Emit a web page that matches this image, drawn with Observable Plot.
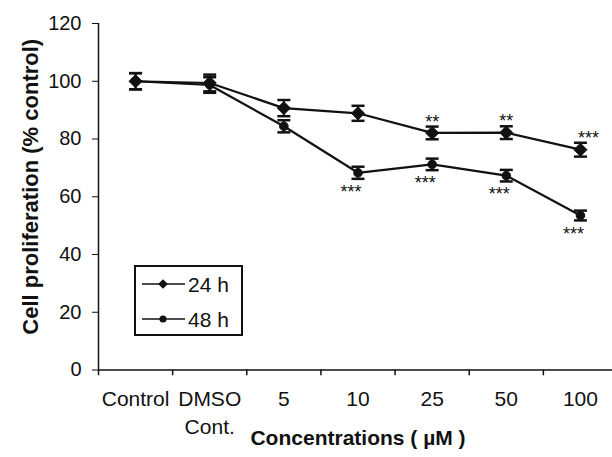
<!DOCTYPE html>
<html>
<head>
<meta charset="utf-8">
<script src="https://cdn.jsdelivr.net/npm/d3@7"></script>
<script src="https://cdn.jsdelivr.net/npm/@observablehq/plot@0.6"></script>
<style>
  html, body { margin: 0; padding: 0; background: #fff; }
  #wrap { position: relative; width: 612px; height: 457px; overflow: hidden; font-family: "Liberation Sans", Arial, sans-serif; }
  #legend { position: absolute; left: 134px; top: 265px; width: 105px; height: 67px; border: 2px solid #111; background: #fff; }
</style>
</head>
<body>
<div id="wrap"><div id="chart"></div><div id="legend"></div></div>
<script>
// ---- data ----
const categories = ["Control", "DMSO\nCont.", "5", "10", "25", "50", "100"];
const seriesNames = ["24 h", "48 h"];
const values24 = [100, 99.4, 90.7, 88.9, 82.1, 82.2, 76.3];
const err24 = [2.8, 2.9, 2.8, 2.6, 2.2, 2.2, 2.4];
const values48 = [100, 98.7, 84.4, 68.3, 71.2, 67.3, 53.5];
const err48 = [2.8, 2.7, 2.1, 2.1, 2.0, 2.0, 1.7];
const sig24 = ["", "", "", "", "**", "**", "***"];
const sig48 = ["", "", "", "***", "***", "***", "***"];
const yTicks = [0, 20, 40, 60, 80, 100, 120];
const yLabel = "Cell proliferation (% control)";
const xLabel = "Concentrations ( \u00b5M )";

// ---- chart ----
const ink = "#111";
const idx = d3.range(categories.length);
const boundaries = d3.range(categories.length + 1).map(i => i - 0.5);
const hbar = { draw(ctx, size) { const w = Math.sqrt(size / Math.PI); ctx.moveTo(-w, 0); ctx.lineTo(w, 0); } };

function seriesMarks(vals, errs, symbol, r) {
  return [
    Plot.line(idx, { x: i => i, y: i => vals[i], stroke: ink, strokeWidth: 2.2 }),
    Plot.ruleX(idx, { x: i => i, y1: i => vals[i] - errs[i], y2: i => vals[i] + errs[i], stroke: ink, strokeWidth: 2 }),
    Plot.dot(idx, { x: i => i, y: i => vals[i] + errs[i], symbol: hbar, r: 6.5, fill: "none", stroke: ink, strokeWidth: 2.5 }),
    Plot.dot(idx, { x: i => i, y: i => vals[i] - errs[i], symbol: hbar, r: 6.5, fill: "none", stroke: ink, strokeWidth: 2.5 }),
    Plot.dot(idx, { x: i => i, y: i => vals[i], symbol, r, fill: ink, stroke: ink, strokeWidth: 1 })
  ];
}

const chart = Plot.plot({
  width: 612,
  height: 457,
  marginLeft: 98,
  marginRight: -5,
  marginTop: 23,
  marginBottom: 87.5,
  style: { fontFamily: "'Liberation Sans', Arial, sans-serif", fontSize: "20px", background: "white", color: ink },
  x: { domain: [-0.5, categories.length - 0.5], axis: null },
  y: { domain: [0, 120], ticks: yTicks, tickSize: 6, tickPadding: 11, label: null, tickFormat: d => String(d) },
  marks: [
    Plot.ruleX([-0.5], { stroke: ink, strokeWidth: 1.5 }),
    Plot.ruleY([0], { stroke: ink, strokeWidth: 1.5 }),
    Plot.ruleX(boundaries, { x: d => d, y1: 0, y2: -2, stroke: ink, strokeWidth: 1.5 }),
    Plot.text(categories, { x: (d, i) => i, text: d => d, frameAnchor: "bottom", lineAnchor: "top", dy: 17, fontSize: 21, lineHeight: 1.3, fill: ink }),
    ...seriesMarks(values48, err48, "circle", 4.3),
    ...seriesMarks(values24, err24, "diamond2", 5.9),
    Plot.text(idx.filter(i => sig24[i] && i < 6), { x: i => i, y: i => values24[i], text: i => sig24[i], dy: -11, fontSize: 18, fill: ink }),
    Plot.text(idx.filter(i => sig24[i] && i === 6), { x: i => i, y: i => values24[i], text: i => sig24[i], dx: 8, dy: -11, fontSize: 18, fill: ink }),
    Plot.text(idx.filter(i => sig48[i]), { x: i => i, y: i => values48[i], text: i => sig48[i], dx: -7, dy: 19, fontSize: 18, fill: ink }),
    Plot.text([yLabel], { frameAnchor: "left", textAnchor: "middle", rotate: -90, dx: -68, dy: -10, fontSize: 22, fontWeight: "bold", fill: ink }),
    Plot.text([xLabel], { frameAnchor: "bottom", dy: 75, fontSize: 21, fontWeight: "bold", fill: ink })
  ]
});
document.getElementById("chart").appendChild(chart);

// ---- legend ----
const lg = d3.select("#legend").append("svg").attr("width", 105).attr("height", 67)
  .style("font-family", "'Liberation Sans', Arial, sans-serif");
const legendSymbols = [d3.symbolDiamond2, d3.symbolCircle];
const legendSizes = [60, 40];
seriesNames.forEach((name, k) => {
  const g = lg.append("g").attr("transform", `translate(0,${17 + k * 35})`);
  g.append("line").attr("x1", 6).attr("x2", 49).attr("y1", 0).attr("y2", 0).attr("stroke", ink).attr("stroke-width", 1.5);
  g.append("path").attr("d", d3.symbol(legendSymbols[k], legendSizes[k])()).attr("transform", "translate(27,0)").attr("fill", ink);
  g.append("text").attr("x", 52).attr("y", 7.5).attr("font-size", 21).attr("fill", ink).text(name);
});
</script>
</body>
</html>
